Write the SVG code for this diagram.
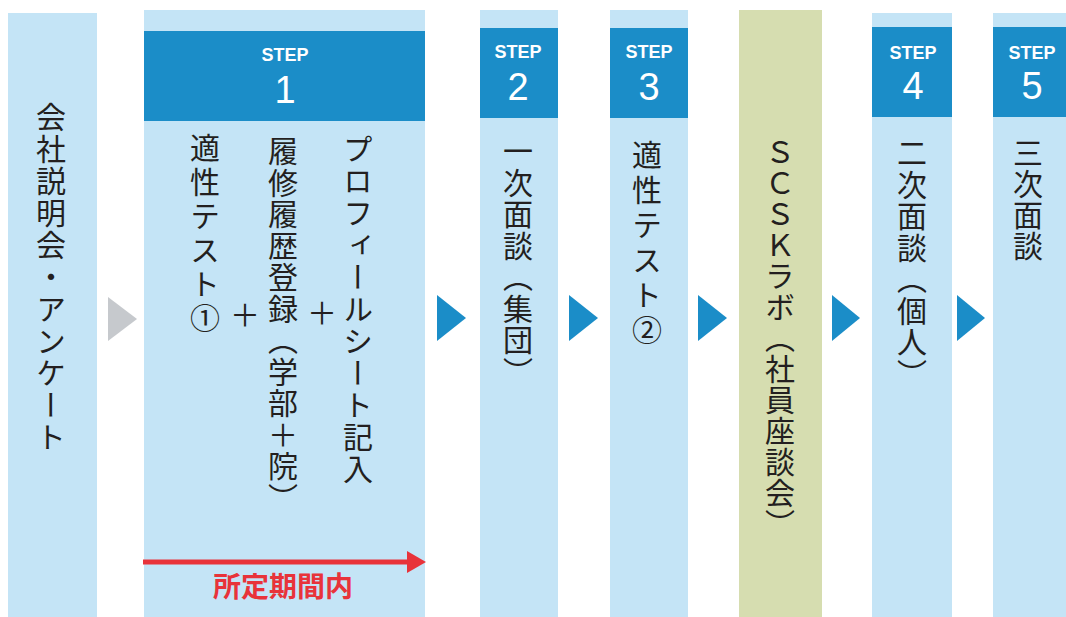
<svg xmlns="http://www.w3.org/2000/svg" width="1066" height="617" viewBox="0 0 1066 617">
<style>
.col{fill:#c4e4f6}
.olive{fill:#d6ddb0}
.hdr{fill:#1b8dc8}
.lbl{font-family:"Liberation Sans",Arial,sans-serif;fill:#fff;text-anchor:middle}
.step{font-weight:700;font-size:18px}
.num{font-weight:400;font-size:38px}
.v{font-family:"Noto Sans CJK JP",sans-serif;font-size:30px;fill:#231f20;writing-mode:vertical-rl}
.plus{font-family:"Noto Sans CJK JP",sans-serif;font-size:30px;fill:#231f20;text-anchor:middle}
.tri{fill:#1b8dc8}
.red{font-family:"Noto Sans CJK JP",sans-serif;font-weight:700;font-size:28px;fill:#e8333a;text-anchor:middle}
</style>
<rect width="1066" height="617" fill="#fff"/>
<g id="node-setsumeikai">
<rect class="col" x="8" y="13" width="89" height="604"/>
<text class="v" x="51" y="102" style="letter-spacing:2px">会社説明会・アンケート</text>
</g>
<g id="node-step1">
<rect class="col" x="144" y="10" width="281" height="607"/>
<rect class="hdr" x="144" y="31" width="281" height="90"/>
<text class="lbl"><tspan class="step" x="285" y="61">STEP</tspan><tspan class="num" x="285" y="103">1</tspan></text>
<text class="v" x="358" y="134" style="letter-spacing:2px">プロフィールシート記入</text>
<text class="v" x="283" y="136" style="letter-spacing:1.5px">履修履歴登録（学部＋院）</text>
<text class="v" x="205" y="133" style="letter-spacing:4px">適性テスト①</text>
<text class="plus" x="322" y="324">＋</text>
<text class="plus" x="245" y="326">＋</text>
</g>
<g id="node-step2">
<rect class="col" x="480" y="10" width="78" height="607"/>
<rect class="hdr" x="480" y="28" width="78" height="90"/>
<text class="lbl"><tspan class="step" x="518" y="58">STEP</tspan><tspan class="num" x="518" y="100">2</tspan></text>
<text class="v" x="518" y="136" style="letter-spacing:1.5px">一次面談（集団）</text>
</g>
<g id="node-step3">
<rect class="col" x="610" y="10" width="78" height="607"/>
<rect class="hdr" x="610" y="28" width="78" height="90"/>
<text class="lbl"><tspan class="step" x="649" y="58">STEP</tspan><tspan class="num" x="649" y="100">3</tspan></text>
<text class="v" x="647" y="140" style="letter-spacing:5px">適性テスト②</text>
</g>
<g id="node-scsk-lab">
<rect class="olive" x="739" y="10" width="83" height="607"/>
<text class="v" x="780" y="137" style="letter-spacing:1px">ＳＣＳＫラボ（社員座談会）</text>
</g>
<g id="node-step4">
<rect class="col" x="872" y="13" width="80" height="604"/>
<rect class="hdr" x="872" y="27" width="80" height="90"/>
<text class="lbl"><tspan class="step" x="913" y="59">STEP</tspan><tspan class="num" x="913" y="99">4</tspan></text>
<text class="v" x="912" y="138" style="letter-spacing:1.5px">二次面談（個人）</text>
</g>
<g id="node-step5">
<rect class="col" x="993" y="13" width="80" height="604"/>
<rect class="hdr" x="993" y="27" width="80" height="90"/>
<text class="lbl"><tspan class="step" x="1032" y="59">STEP</tspan><tspan class="num" x="1032" y="99">5</tspan></text>
<text class="v" x="1028" y="138" style="letter-spacing:1px">三次面談</text>
</g>
<g id="connectors">
<polygon points="108,297 137,319 108,341" fill="#c6c9cd"/>
<polygon class="tri" points="437,295 466,318 437,341"/>
<polygon class="tri" points="569,295 598,318 569,341"/>
<polygon class="tri" points="698,295 727,318 698,341"/>
<polygon class="tri" points="832,295 860,318 832,341"/>
<polygon class="tri" points="957,295 985,318 957,341"/>
<line x1="143" y1="562" x2="410" y2="562" stroke="#e8333a" stroke-width="5"/>
<polygon points="407,551 426,562 407,573" fill="#e8333a"/>
<text class="red" x="283" y="597">所定期間内</text>
</g>
</svg>
